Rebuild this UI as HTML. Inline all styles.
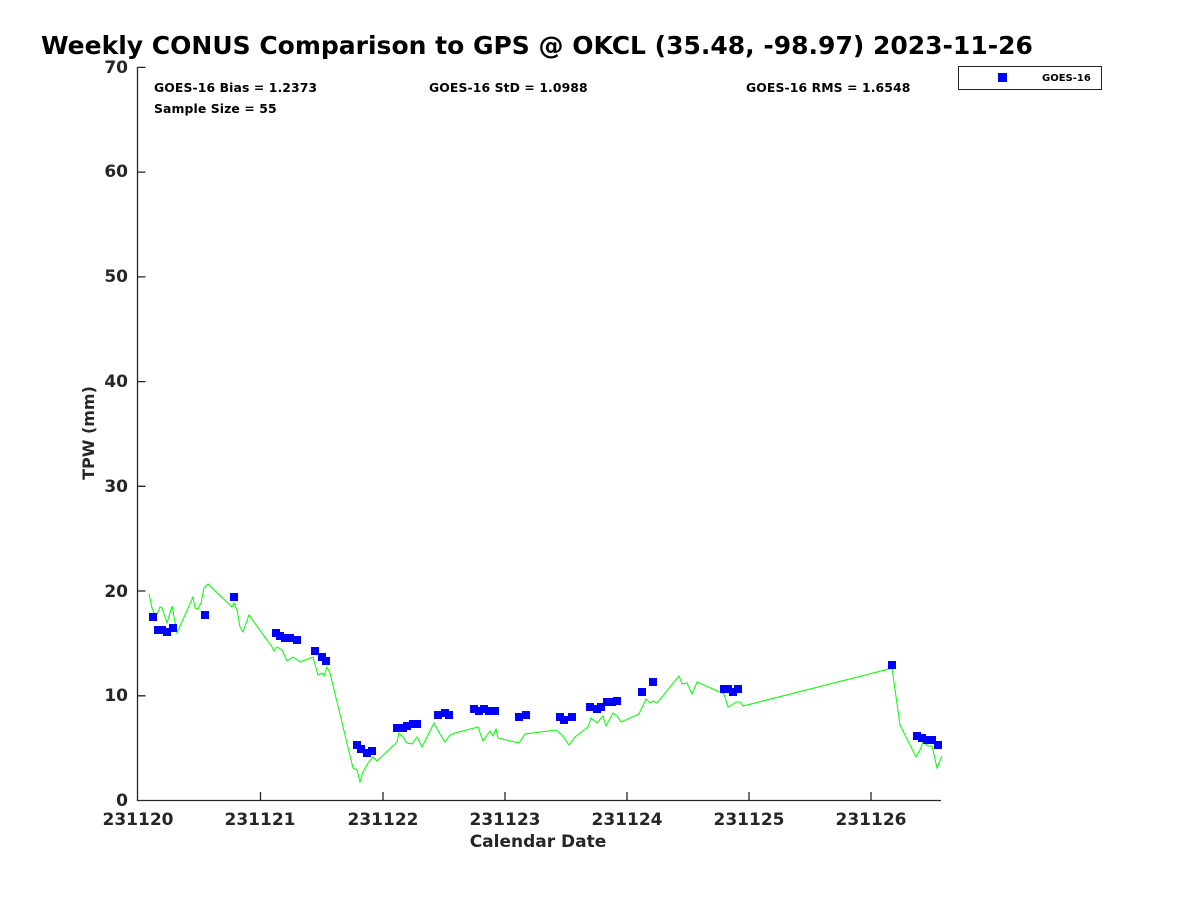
<!DOCTYPE html>
<html><head><meta charset="utf-8"><style>
html,body{margin:0;padding:0;background:#fff;}
svg{display:block;font-family:"DejaVu Sans","Liberation Sans",sans-serif;font-weight:bold;}
</style></head><body>
<svg width="1200" height="900" viewBox="0 0 1200 900" xmlns="http://www.w3.org/2000/svg">
<rect width="1200" height="900" fill="#fff"/>
<text x="41" y="54" font-size="25" fill="#000">Weekly CONUS Comparison to GPS @ OKCL (35.48, -98.97) 2023-11-26</text>
<g stroke="#262626" stroke-width="1.3" fill="none">
<path d="M137.5,67 V800.5 H941"/>
<path d="M137.5,695.8h8 M137.5,591h8 M137.5,486.3h8 M137.5,381.6h8 M137.5,276.9h8 M137.5,172.1h8 M137.5,67.4h8"/>
<path d="M260.5,800v-8 M383,800v-8 M505,800v-8 M627,800v-8 M749,800v-8 M871,800v-8"/>
</g>
<g font-size="17" fill="#262626" text-anchor="end">
<text x="128" y="806">0</text><text x="128" y="701">10</text><text x="128" y="597">20</text>
<text x="128" y="492">30</text><text x="128" y="387">40</text><text x="128" y="282">50</text><text x="128" y="177">60</text><text x="128" y="73">70</text>
</g>
<g font-size="17" fill="#262626" text-anchor="middle">
<text x="138" y="825">231120</text><text x="260" y="825">231121</text><text x="383" y="825">231122</text>
<text x="505" y="825">231123</text><text x="627" y="825">231124</text><text x="749" y="825">231125</text><text x="871" y="825">231126</text>
<text x="538" y="847">Calendar Date</text>
</g>
<text transform="translate(94,433) rotate(-90)" font-size="16" fill="#262626" text-anchor="middle">TPW (mm)</text>
<g font-size="12.4" fill="#000" letter-spacing="0.1">
<text x="154" y="92">GOES-16 Bias = 1.2373</text>
<text x="429" y="92">GOES-16 StD = 1.0988</text>
<text x="746" y="92">GOES-16 RMS = 1.6548</text>
<text x="154" y="113">Sample Size = 55</text>
</g>
<rect x="958.5" y="66.5" width="143" height="23" fill="#fff" stroke="#262626" stroke-width="1"/>
<rect x="998" y="73" width="9" height="9" fill="#0000ff"/>
<text x="1042" y="81" font-size="10" fill="#000">GOES-16</text>
<polyline fill="none" stroke="#00ff00" stroke-width="1" points="149,594 152,608 156,617 160,607 162,608 167,623 172,606 177,633 193,597 195,608 198,609 201,603 204,588 208,584 232,607 234,603 237,610 240,627 243,632 249,615 272,647 274,651 277,647 282,650 287,661 293,657 300,662 313,657 318,675 322,673 324,676 327,667 330,673 353,768 357,770 360,782 363,772 368,763 373,757 377,761 397,742 399,733 403,737 407,743 412,744 417,737 422,747 434,723 440,734 445,742 450,735 455,733 478,727 483,741 490,731 493,736 496,729 498,738 519,743 525,734 556,730 562,735 569,745 575,737 588,727 591,718 597,723 603,716 606,726 613,713 617,716 621,722 639,714 646,699 650,703 653,701 657,703 679,676 682,684 687,683 692,694 697,682 722,693 724,694 728,707 732,705 736,702 740,702 743,706 889,669 892,668 900,725 916,757 920,750 923,742 928,746 932,746 937,768 942,756"/>
<g fill="#0000ff">
<rect x="149" y="613" width="8" height="8"/><rect x="154" y="626" width="8" height="8"/><rect x="158" y="626" width="8" height="8"/><rect x="163" y="628" width="8" height="8"/><rect x="169" y="624" width="8" height="8"/>
<rect x="201" y="611" width="8" height="8"/><rect x="230" y="593" width="8" height="8"/>
<rect x="272" y="629" width="8" height="8"/><rect x="276" y="632" width="8" height="8"/><rect x="281" y="634" width="8" height="8"/><rect x="286" y="634" width="8" height="8"/><rect x="293" y="636" width="8" height="8"/>
<rect x="311" y="647" width="8" height="8"/><rect x="318" y="653" width="8" height="8"/><rect x="322" y="657" width="8" height="8"/>
<rect x="353" y="741" width="8" height="8"/><rect x="357" y="745" width="8" height="8"/><rect x="363" y="749" width="8" height="8"/><rect x="368" y="747" width="8" height="8"/>
<rect x="393" y="724" width="8" height="8"/><rect x="399" y="724" width="8" height="8"/><rect x="403" y="722" width="8" height="8"/><rect x="409" y="720" width="8" height="8"/><rect x="413" y="720" width="8" height="8"/>
<rect x="434" y="711" width="8" height="8"/><rect x="441" y="709" width="8" height="8"/><rect x="445" y="711" width="8" height="8"/>
<rect x="470" y="705" width="8" height="8"/><rect x="475" y="707" width="8" height="8"/><rect x="480" y="705" width="8" height="8"/><rect x="485" y="707" width="8" height="8"/><rect x="491" y="707" width="8" height="8"/>
<rect x="515" y="713" width="8" height="8"/><rect x="522" y="711" width="8" height="8"/>
<rect x="556" y="713" width="8" height="8"/><rect x="560" y="716" width="8" height="8"/><rect x="568" y="713" width="8" height="8"/>
<rect x="586" y="703" width="8" height="8"/><rect x="593" y="705" width="8" height="8"/><rect x="597" y="703" width="8" height="8"/><rect x="603" y="698" width="8" height="8"/><rect x="608" y="698" width="8" height="8"/><rect x="613" y="697" width="8" height="8"/>
<rect x="638" y="688" width="8" height="8"/><rect x="649" y="678" width="8" height="8"/>
<rect x="720" y="685" width="8" height="8"/><rect x="724" y="685" width="8" height="8"/><rect x="729" y="688" width="8" height="8"/><rect x="734" y="685" width="8" height="8"/>
<rect x="888" y="661" width="8" height="8"/>
<rect x="913" y="732" width="8" height="8"/><rect x="918" y="734" width="8" height="8"/><rect x="923" y="736" width="8" height="8"/><rect x="928" y="736" width="8" height="8"/><rect x="934" y="741" width="8" height="8"/>
</g>
</svg>
</body></html>
